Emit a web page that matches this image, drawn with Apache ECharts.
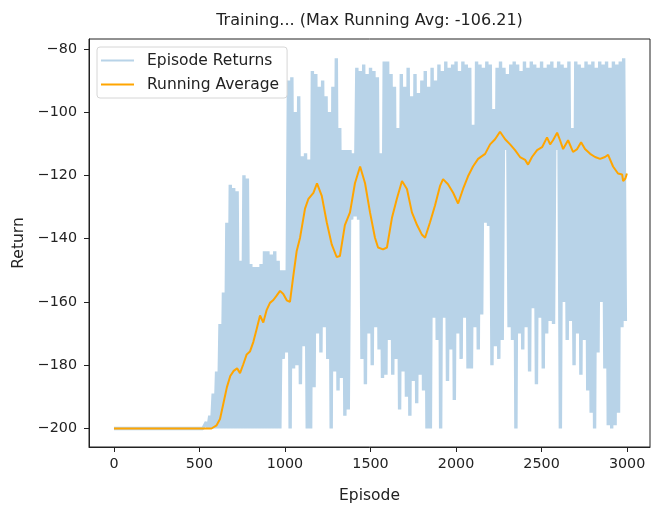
<!DOCTYPE html>
<html>
<head>
<meta charset="utf-8">
<script src="https://cdn.jsdelivr.net/npm/echarts@6/dist/echarts.min.js"></script>
<style>
html,body{margin:0;padding:0;background:#fff;}
#chart{width:651px;height:509px;}
</style>
</head>
<body>
<div id="chart"></div>
<script>
// ---- data ----
const titleText = 'Training... (Max Running Avg: -106.21)';
const xTicks = [0, 500, 1000, 1500, 2000, 2500, 3000];
const yTicks = [-200, -180, -160, -140, -120, -100, -80];

// Episode returns: per 20-episode bin, a high value (at ep 20i) and a low value (at ep 20i+10)
const binStep = 20;
const retHigh = [
  -200,-200,-200,-200,-200,-200,-200,-200,-200,-200,
  -200,-200,-200,-200,-200,-200,-200,-200,-200,-200,
  -200,-200,-200,-200,-200,-200,-200,-198,-196,-189,
  -182,-167,-157,-135,-123,-124,-125,-147,-120,-121,
  -148,-149,-149,-148,-144,-144,-145,-144,-147,-150,
  -150,-90,-89,-100,-95,-114,-113,-115,-87,-88,
  -92,-90,-95,-100,-92,-83,-105,-112,-112,-112,
  -113,-86,-87,-85,-88,-86,-87,-89,-113,-84,
  -84,-88,-92,-105,-88,-92,-86,-95,-88,-94,
  -90,-87,-92,-86,-90,-85,-87,-84,-86,-85,
  -84,-87,-84,-85,-86,-104,-84,-85,-86,-84,
  -85,-99,-86,-84,-86,-88,-85,-84,-85,-87,
  -84,-86,-84,-85,-86,-84,-86,-85,-84,-86,
  -84,-85,-86,-84,-105,-84,-85,-86,-84,-85,
  -84,-86,-84,-85,-84,-86,-84,-85,-84,-83
];
const retLow = [
  -200,-200,-200,-200,-200,-200,-200,-200,-200,-200,
  -200,-200,-200,-200,-200,-200,-200,-200,-200,-200,
  -200,-200,-200,-200,-200,-200,-200,-200,-200,-200,
  -200,-200,-200,-200,-200,-200,-200,-200,-200,-200,
  -200,-200,-200,-200,-200,-200,-200,-200,-200,-178,
  -176,-200,-181,-180,-186,-174,-200,-200,-187,-170,
  -176,-168,-178,-200,-182,-188,-184,-196,-194,-134,
  -133,-134,-178,-186,-170,-180,-168,-175,-184,-183,
  -172,-183,-178,-194,-182,-190,-196,-185,-192,-183,
  -188,-200,-200,-165,-172,-200,-165,-185,-175,-191,
  -170,-178,-165,-181,-181,-168,-175,-164,-135,-136,
  -180,-174,-178,-172,-112,-168,-172,-200,-170,-175,
  -168,-182,-162,-186,-165,-181,-170,-166,-167,-112,
  -200,-160,-172,-166,-180,-170,-183,-172,-188,-195,
  -200,-176,-160,-181,-199,-200,-199,-195,-168,-166
];

// Running average: episode positions and values
const avgEpisodes = [0,540,570,600,620,640,660,680,700,720,737,756,776,795,815,834,854,873,893,912,932,951,971,990,1010,1029,1048,1068,1088,1117,1137,1166,1187,1215,1244,1273,1302,1321,1350,1380,1409,1439,1468,1497,1526,1544,1573,1596,1625,1654,1684,1713,1742,1772,1801,1819,1848,1877,1906,1924,1953,1983,2012,2041,2070,2099,2129,2170,2199,2228,2257,2287,2316,2345,2374,2404,2421,2444,2474,2503,2532,2550,2567,2591,2608,2626,2655,2684,2708,2731,2754,2784,2813,2842,2871,2889,2918,2947,2971,2977,2990,2999];
const avgValues = [-200,-200,-200,-199,-197,-192,-187,-183.4,-181.8,-181,-182.5,-179.7,-176.6,-175.7,-172.6,-168.6,-164.3,-166.5,-162.5,-160.3,-159.4,-158,-156.5,-157.5,-159.5,-160,-152,-144,-139.7,-130.5,-127.4,-125.5,-122.5,-126.5,-134.8,-141.8,-145.8,-145.5,-135.7,-131.7,-122.5,-117.2,-122.5,-131.7,-139.7,-142.8,-143.4,-142.8,-133.5,-127.4,-121.8,-124.3,-131.7,-135.7,-138.8,-139.7,-134.8,-129.5,-123.4,-121.2,-122.8,-125.5,-128.9,-124.3,-120.3,-117.2,-114.8,-113.2,-110.2,-108.6,-106.2,-108.6,-110.2,-112,-114.2,-115.1,-116.6,-114.2,-112,-111.1,-108,-110.2,-108.9,-106.5,-108.9,-111.7,-108.9,-112.6,-111.7,-109.5,-111.7,-113.2,-114.2,-114.8,-114.2,-113.5,-117.2,-119.4,-119.7,-121.8,-121,-119.4];

// ---- build series data ----
const returnsData = [];
for (let i = 0; i < retHigh.length; i++) {
  returnsData.push([i * binStep, retHigh[i]]);
  returnsData.push([i * binStep + binStep / 2, retLow[i]]);
}
const avgData = avgEpisodes.map((e, i) => [e, avgValues[i]]);

const FONT = 'DejaVu Sans';
const minusFmt = v => String(v).replace('-', '\u2212');

const chart = echarts.init(document.getElementById('chart'), null, {renderer: 'canvas'});
chart.setOption({
  animation: false,
  backgroundColor: '#ffffff',
  title: {
    text: titleText,
    left: 369.5,
    top: 21,
    padding: 0,
    textAlign: 'center',
    textVerticalAlign: 'middle',
    textStyle: {fontFamily: FONT, fontSize: 16, fontWeight: 'normal', color: '#222'}
  },
  legend: {
    orient: 'vertical',
    left: 97,
    top: 47,
    padding: [5, 8, 5, 4],
    itemGap: 7,
    itemWidth: 33,
    itemHeight: 16,
    backgroundColor: 'rgba(255,255,255,0.85)',
    borderColor: '#d6d6d6',
    borderWidth: 1,
    borderRadius: 3,
    textStyle: {fontFamily: FONT, fontSize: 15.5, color: '#222', padding: [0, 0, 0, 8], lineHeight: 17},
    data: [
      {name: 'Episode Returns', icon: 'path://M0,0H33V2H0Z'},
      {name: 'Running Average', icon: 'path://M0,0H33V2H0Z'}
    ]
  },
  grid: {
    left: 89, top: 39, right: 1, bottom: 51,
    show: true, borderColor: '#222', borderWidth: 1, backgroundColor: 'transparent'
  },
  xAxis: {
    type: 'value',
    min: -146, max: 3134,
    name: 'Episode',
    nameLocation: 'middle',
    nameGap: 41,
    nameTextStyle: {fontFamily: FONT, fontSize: 15.5, color: '#222'},
    axisLine: {show: true, onZero: false, lineStyle: {color: '#222', width: 1}},
    axisTick: {show: true, length: 5, inside: false, customValues: xTicks, lineStyle: {color: '#222'}},
    axisLabel: {margin: 10, customValues: xTicks, fontFamily: FONT, fontSize: 14.3, color: '#222', formatter: minusFmt},
    splitLine: {show: false}
  },
  yAxis: {
    type: 'value',
    min: -205.85, max: -76.9,
    name: 'Return',
    nameLocation: 'middle',
    nameGap: 61,
    nameRotate: 90,
    nameTextStyle: {fontFamily: FONT, fontSize: 15.5, color: '#222'},
    axisLine: {show: true, onZero: false, lineStyle: {color: '#222', width: 1}},
    axisTick: {show: true, length: 5, inside: false, customValues: yTicks, lineStyle: {color: '#222'}},
    axisLabel: {margin: 12, customValues: yTicks, fontFamily: FONT, fontSize: 14.3, color: '#222', formatter: minusFmt},
    splitLine: {show: false}
  },
  series: [
    {
      name: 'Episode Returns',
      type: 'line',
      data: returnsData,
      showSymbol: false,
      symbol: 'none',
      sampling: null,
      lineStyle: {color: '#b8d3e8', width: 3.4, join: 'bevel', cap: 'butt'},
      itemStyle: {color: '#b8d3e8'},
      z: 2
    },
    {
      name: 'Running Average',
      type: 'line',
      data: avgData,
      showSymbol: false,
      symbol: 'none',
      lineStyle: {color: '#ffa500', width: 2},
      itemStyle: {color: '#ffa500'},
      z: 3
    }
  ]
});
</script>
</body>
</html>
